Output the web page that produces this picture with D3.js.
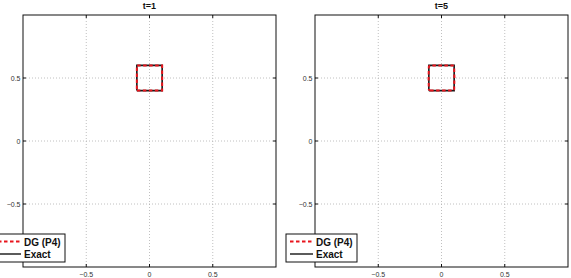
<!DOCTYPE html>
<html lang="en">
<head>
    <meta charset="UTF-8">
    <title>DG (P4) vs exact</title>
    <script src="https://d3js.org/d3.v7.min.js"></script>
    <style>
        body { margin: 0; background: #fff; }
        svg { display: block; font-family: "Liberation Sans", Arial, Helvetica, sans-serif; }
        .grid line { stroke: #b0b0b0; stroke-width: 0.8px; stroke-dasharray: 1 2; }
        .tick-label { font-size: 7px; fill: #333; }
        .title { font-size: 9px; font-weight: bold; text-anchor: middle; fill: #111; }
        .legend text { font-size: 10px; font-weight: bold; fill: #111; }
    </style>
</head>
<body>
<svg width="571" height="278"></svg>
<script>
    // panels
    const titles = ["t=1", "t=5"];
    const xTicks = [-0.5, 0, 0.5];
    const yTicks = [-0.5, 0, 0.5];

    // exact solution: square indicator contour
    const exactX = [-0.1, 0.1, 0.1, -0.1, -0.1];
    const exactY = [0.4, 0.4, 0.6, 0.6, 0.4];

    // DG (P4) contour, t=1 and t=5 (slightly rounded corners at t=5)
    const dg1X = [-0.1, 0.1, 0.1, -0.1, -0.1];
    const dg1Y = [0.4, 0.4, 0.6, 0.6, 0.4];
    const dg5X = [-0.09, 0.09, 0.1, 0.102, 0.1, 0.09, -0.09, -0.1, -0.102, -0.1, -0.09];
    const dg5Y = [0.4, 0.4, 0.41, 0.5, 0.59, 0.6, 0.6, 0.59, 0.5, 0.41, 0.4];
    const dgX = [dg1X, dg5X];
    const dgY = [dg1Y, dg5Y];

    const legendLabels = ["DG (P4)", "Exact"];

    const svg = d3.select("svg");
    const panelLeft = [23, 315];
    const plotTop = 15, w = 253, h = 252;
    const fmt = d => d < 0 ? "\u2212" + Math.abs(d) : String(d);

    titles.forEach((title, i) => {
        const g = svg.append("g").attr("transform", `translate(${panelLeft[i]},${plotTop})`);
        const x = d3.scaleLinear().domain([-1, 1]).range([0, w]);
        const y = d3.scaleLinear().domain([-1, 1]).range([h, 0]);

        // grid
        const grid = g.append("g").attr("class", "grid");
        grid.selectAll(".gx").data(xTicks).enter().append("line")
            .attr("x1", d => x(d)).attr("x2", d => x(d)).attr("y1", 0).attr("y2", h);
        grid.selectAll(".gy").data(yTicks).enter().append("line")
            .attr("y1", d => y(d)).attr("y2", d => y(d)).attr("x1", 0).attr("x2", w);

        // curves
        const line = d3.line().x(d => x(d[0])).y(d => y(d[1]));
        g.append("path")
            .attr("d", line(d3.zip(exactX, exactY)))
            .attr("fill", "none").attr("stroke", "#1a1a1a").attr("stroke-width", 1.6);
        g.append("path")
            .attr("d", line(d3.zip(dgX[i], dgY[i])))
            .attr("fill", "none").attr("stroke", "#e8141c").attr("stroke-width", 2)
            .attr("stroke-dasharray", "3.5 2.5");

        // frame and inward ticks
        g.append("rect").attr("width", w).attr("height", h)
            .attr("fill", "none").attr("stroke", "#111").attr("stroke-width", 1);
        const tl = 3;
        xTicks.forEach(d => {
            g.append("line").attr("x1", x(d)).attr("x2", x(d)).attr("y1", h).attr("y2", h - tl).attr("stroke", "#111");
            g.append("line").attr("x1", x(d)).attr("x2", x(d)).attr("y1", 0).attr("y2", tl).attr("stroke", "#111");
        });
        yTicks.forEach(d => {
            g.append("line").attr("y1", y(d)).attr("y2", y(d)).attr("x1", 0).attr("x2", tl).attr("stroke", "#111");
            g.append("line").attr("y1", y(d)).attr("y2", y(d)).attr("x1", w).attr("x2", w - tl).attr("stroke", "#111");
        });

        // tick labels
        g.selectAll(".xl").data(xTicks).enter().append("text")
            .attr("class", "tick-label").attr("text-anchor", "middle")
            .attr("x", d => x(d)).attr("y", h + 9.5).text(fmt);
        g.selectAll(".yl").data(yTicks).enter().append("text")
            .attr("class", "tick-label").attr("text-anchor", "end")
            .attr("x", -2.5).attr("y", d => y(d) + 2.5).text(fmt);

        // title
        g.append("text").attr("class", "title").attr("x", w / 2).attr("y", -6.5).text(title);

        // legend
        const lg = g.append("g").attr("class", "legend").attr("transform", `translate(-29,${219})`);
        lg.append("rect").attr("width", 71).attr("height", 28)
            .attr("fill", "#fff").attr("stroke", "#111").attr("stroke-width", 1);
        lg.append("line").attr("x1", 4).attr("x2", 27).attr("y1", 7.5).attr("y2", 7.5)
            .attr("stroke", "#e8141c").attr("stroke-width", 2.2).attr("stroke-dasharray", "3.5 2.5");
        lg.append("line").attr("x1", 4).attr("x2", 27).attr("y1", 20).attr("y2", 20)
            .attr("stroke", "#333").attr("stroke-width", 1.6);
        lg.selectAll(".lt").data(legendLabels).enter().append("text")
            .attr("x", 30).attr("y", (d, k) => 12 + k * 12).text(d => d);
    });
</script>
</body>
</html>
